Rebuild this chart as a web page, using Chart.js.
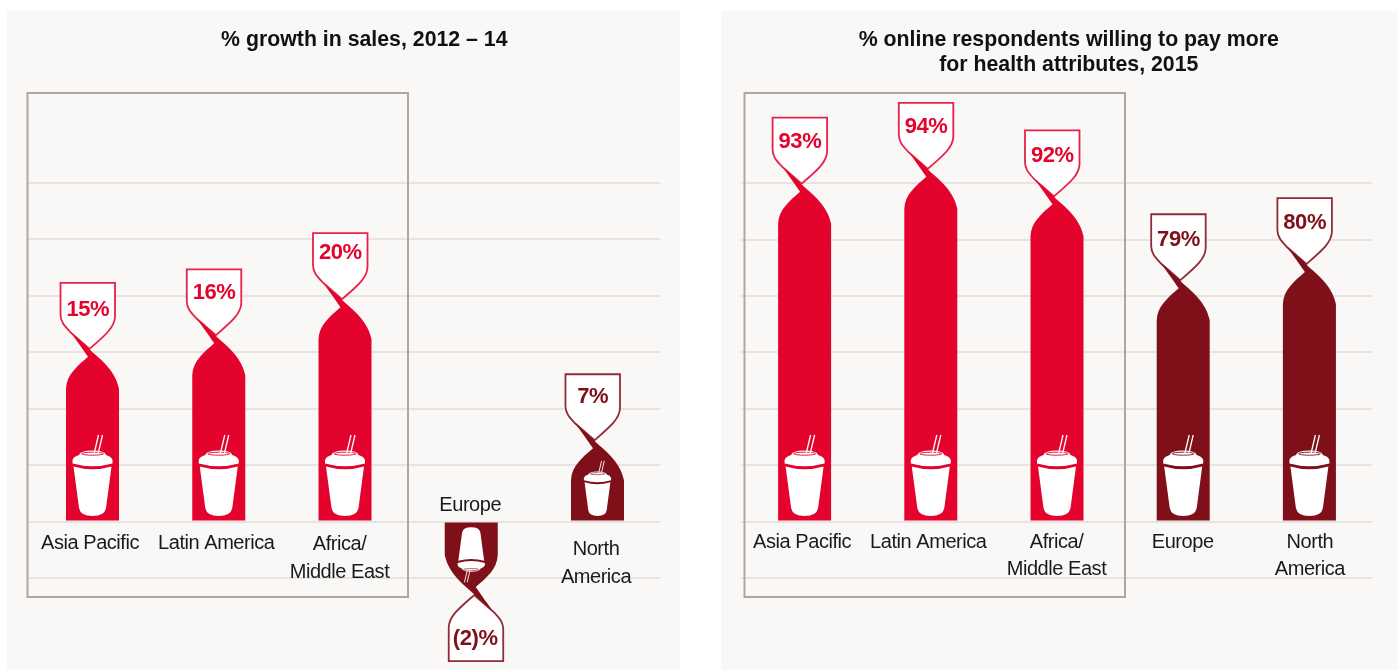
<!DOCTYPE html>
<html>
<head>
<meta charset="utf-8">
<style>
html,body{margin:0;padding:0;background:#fff;width:1398px;height:670px;overflow:hidden}
.panel{position:absolute;background:#faf8f6}
canvas{position:absolute}
</style>
<script src="https://cdn.jsdelivr.net/npm/chart.js@4"></script>
</head>
<body>
<div class="panel" style="left:7px;top:11px;width:673px;height:659px"></div>
<div class="panel" style="left:721px;top:11px;width:677px;height:659px"></div>
<div style="position:absolute;left:20px;top:0;width:688px;height:670px"><canvas id="left" style="left:0;top:0"></canvas></div>
<div style="position:absolute;left:740px;top:0;width:658px;height:670px"><canvas id="right" style="left:0;top:0"></canvas></div>
<script>
// Categories
const salesCategories = [["Asia Pacific"], ["Latin America"], ["Africa/", "Middle East"], ["Europe"], ["North", "America"]];
const healthCategories = [["Asia Pacific"], ["Latin America"], ["Africa/", "Middle East"], ["Europe"], ["North", "America"]];
// Printed value labels
const salesLabels = ["15%", "16%", "20%", "(2)%", "7%"];
const healthLabels = ["93%", "94%", "92%", "79%", "80%"];
// The original graphic is not strictly to scale (Europe's -2 is drawn deeper than -2).
const salesTips = [14.6, 15.8, 19, -5.8, 6.5];
const healthTips = [91.8, 93.9, 90, 78.1, 80.4];
// Gridlines of each panel
const salesGrid = [-5, 0, 5, 10, 15, 20, 25, 30];
const healthGrid = [37, 45, 53, 61, 69, 77, 85, 93];
const salesBase = 0;
const healthBase = 45;

const RED = "#e4032c", DARK = "#7f0f19";
const salesColors = [RED, RED, RED, DARK, DARK];
const healthColors = [RED, RED, RED, DARK, DARK];

function drawCup(ctx, s, color) {
  // origin: centre of cup bottom; y negative is up
  ctx.save();
  ctx.scale(s, s);
  ctx.fillStyle = "#fff";
  // body
  ctx.beginPath();
  ctx.moveTo(-19, -49.5);
  ctx.quadraticCurveTo(0, -44, 19, -49.5);
  ctx.lineTo(13.5, -8);
  ctx.quadraticCurveTo(12, 0, 0, 0);
  ctx.quadraticCurveTo(-12, 0, -13.5, -8);
  ctx.closePath();
  ctx.fill();
  // lid
  ctx.beginPath();
  ctx.moveTo(-20, -52.5);
  ctx.quadraticCurveTo(0, -47, 20, -52.5);
  ctx.lineTo(20, -56);
  ctx.quadraticCurveTo(19, -59.5, 13.5, -61);
  ctx.quadraticCurveTo(12.5, -65.5, 0, -65.5);
  ctx.quadraticCurveTo(-12.5, -65.5, -13.5, -61);
  ctx.quadraticCurveTo(-19, -59.5, -20, -56);
  ctx.closePath();
  ctx.fill();
  ctx.strokeStyle = color;
  ctx.lineWidth = 0.9;
  ctx.beginPath();
  ctx.ellipse(0, -62.3, 11, 1.5, 0, 0, Math.PI * 2);
  ctx.stroke();
  // straw
  ctx.strokeStyle = "#fff";
  ctx.lineWidth = 1.3;
  ctx.beginPath();
  ctx.moveTo(1.5, -62); ctx.lineTo(6, -81);
  ctx.moveTo(5.5, -62); ctx.lineTo(10, -81);
  ctx.stroke();
  ctx.restore();
}

function twistDraw(label, color, cat, cfg, i) {
  return function (ctx) {
    const xc = this.x, cy = this.y, base = this.base, hw = this.width / 2;
    const up = cy <= base;
    const H = Math.abs(base - cy);
    ctx.save();
    ctx.translate(xc, cy);
    if (!up) ctx.rotate(Math.PI);
    // flag
    ctx.beginPath();
    ctx.moveTo(-32, -74);
    ctx.lineTo(22.5, -74);
    ctx.lineTo(22.5, -40);
    ctx.bezierCurveTo(22, -29, 12, -21, -3, -8);
    ctx.lineTo(-22.5, -25);
    ctx.bezierCurveTo(-28, -31, -32, -35, -32, -42);
    ctx.closePath();
    ctx.fillStyle = "#fff";
    ctx.fill();
    ctx.globalAlpha = 0.88;
    ctx.lineWidth = 1.8;
    ctx.strokeStyle = color;
    ctx.stroke();
    ctx.globalAlpha = 1;
    // ribbon and bar
    ctx.beginPath();
    ctx.moveTo(-hw, H);
    ctx.lineTo(-hw, 32);
    ctx.bezierCurveTo(-hw + 0.5, 18, -15, 9, -4.5, 0);
    ctx.bezierCurveTo(-10, -8, -17, -18, -22.5, -25);
    ctx.bezierCurveTo(-14, -18, -9, -13, -3.5, -8);
    ctx.bezierCurveTo(5, 1, 22, 11, hw, 32);
    ctx.lineTo(hw, H);
    ctx.closePath();
    ctx.fillStyle = color;
    ctx.fill();
    ctx.restore();
    // cup
    ctx.save();
    ctx.translate(xc, base);
    if (!up) ctx.rotate(Math.PI);
    ctx.translate(0, -4.6);
    drawCup(ctx, H < 100 ? 0.68 : 1, color);
    ctx.restore();
    // value label
    ctx.save();
    ctx.fillStyle = color;
    ctx.font = "bold 22px 'Liberation Sans', Arial, sans-serif";
    ctx.letterSpacing = "-0.4px";
    ctx.textAlign = "center";
    ctx.textBaseline = "middle";
    if (up) ctx.fillText(label, xc - 4.7, cy - 74 + cfg.valueDy[i]);
    else ctx.fillText(label, xc + 4, cy + 74 - 22);
    // category label
    ctx.fillStyle = "#1a1a1a";
    ctx.font = "20px 'Liberation Sans', Arial, sans-serif";
    ctx.letterSpacing = "-0.45px";
    const lx = xc + cfg.labelDx[i], ly = base + cfg.labelDy[i];
    cat.forEach((line, k) => ctx.fillText(line, lx, ly + k * cfg.labelLead));
    ctx.restore();
  };
}

function makeChart(id, cfg) {
  const canvas = document.getElementById(id);
  const framePlugin = {
    id: "frame",
    afterLayout(chart) {
      chart.titleBlock.left += cfg.titleShift;
      chart.titleBlock.right += cfg.titleShift;
    },
    beforeDatasetsDraw(chart) {
      const ctx = chart.ctx;
      ctx.save();
      ctx.strokeStyle = "#b0a79c";
      ctx.lineWidth = 2;
      ctx.strokeRect(cfg.box[0], cfg.box[1], cfg.box[2], cfg.box[3]);
      ctx.restore();
    }
  };
  const twistPlugin = {
    id: "twist",
    afterDatasetsUpdate(chart) {
      const meta = chart.getDatasetMeta(0);
      meta.data.forEach((el, i) => {
        el.draw = twistDraw(cfg.valueLabels[i], cfg.colors[i], cfg.categories[i], cfg, i);
      });
    }
  };
  return new Chart(canvas, {
    type: "bar",
    data: {
      labels: cfg.categories.map(c => c.join(" ")),
      datasets: [{
        data: cfg.tips,
        base: cfg.base,
        backgroundColor: cfg.colors,
        barThickness: 53
      }]
    },
    plugins: [framePlugin, twistPlugin],
    options: {
      responsive: false,
      animation: false,
      events: [],
      clip: false,
      layout: { padding: cfg.padding },
      plugins: {
        legend: { display: false },
        tooltip: { enabled: false },
        title: {
          display: true,
          text: cfg.title,
          color: "#111",
          font: { family: "'Liberation Sans', Arial, sans-serif", size: 21.3, weight: "bold", lineHeight: 25 / 21.3 },
          padding: cfg.titlePadding
        }
      },
      scales: {
        x: { display: false, grid: { display: false } },
        y: {
          min: cfg.min, max: cfg.max,
          afterBuildTicks(axis) { axis.ticks = cfg.grid.map(v => ({ value: v })); },
          border: { display: false },
          ticks: { display: false },
          grid: { color: "#e6e3e0", lineWidth: 2, tickLength: cfg.tick }
        }
      }
    }
  });
}

const canvasSizes = { left: [688, 670], right: [658, 670] };
for (const k in canvasSizes) {
  const c = document.getElementById(k);
  c.width = canvasSizes[k][0]; c.height = canvasSizes[k][1];
  c.style.width = canvasSizes[k][0] + "px"; c.style.height = canvasSizes[k][1] + "px";
}

makeChart("left", {
  categories: salesCategories, valueLabels: salesLabels, tips: salesTips, grid: salesGrid,
  base: salesBase, colors: salesColors,
  title: ["% growth in sales, 2012 – 14"], titleShift: 20.5,
  titlePadding: { top: 27.5, bottom: 35.5 },
  min: salesBase - 146.4 / 11.286, max: salesBase + 433.6 / 11.286,
  padding: { left: 7, right: 47.4, top: 0, bottom: 2 }, tick: 2.4,
  box: [7.5, 93, 380.5, 504],
  valueDy: [27, 24, 20, 0, 23],
  labelDx: [-2.5, -2.5, -5.5, -1, -1.5], labelDy: [22.5, 22.5, 24, -17, 29], labelLead: 27.5
});
makeChart("right", {
  categories: healthCategories, valueLabels: healthLabels, tips: healthTips, grid: healthGrid,
  base: healthBase, colors: healthColors,
  title: ["% online respondents willing to pay more", "for health attributes, 2015"], titleShift: 12,
  titlePadding: { top: 27.5, bottom: 10.5 },
  min: healthBase - 146.4 / 7.05, max: healthBase + 433.6 / 7.05,
  padding: { left: 1, right: 25.5, top: 0, bottom: 2 }, tick: 0.5,
  box: [4.5, 93, 380.5, 504],
  valueDy: [24, 24, 26, 26, 25],
  labelDx: [-2.5, -2.5, -0.5, -0.5, 0.5], labelDy: [22, 22, 22, 22, 22], labelLead: 27
});
</script>
</body>
</html>
